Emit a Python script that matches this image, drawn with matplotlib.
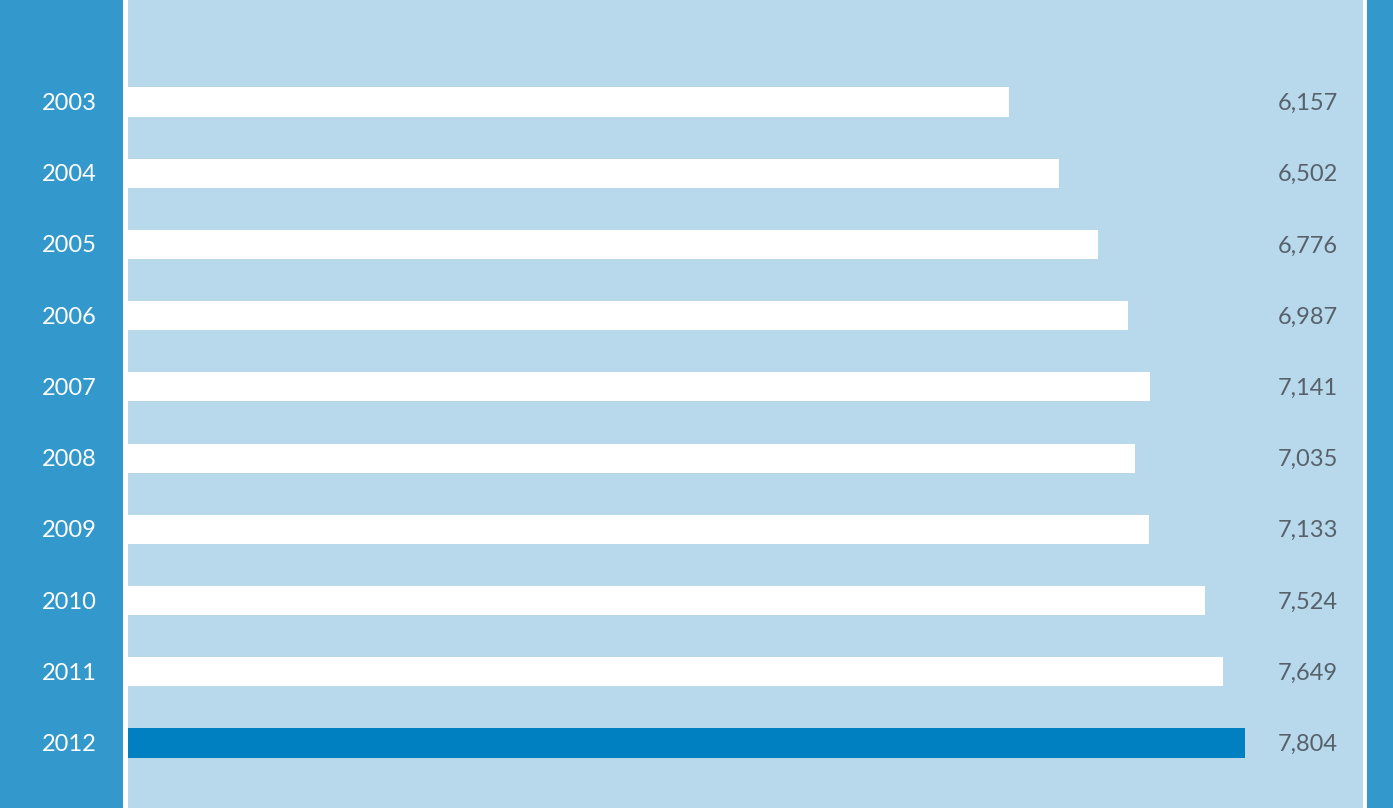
import matplotlib
matplotlib.use("Agg")
import matplotlib.pyplot as plt
from matplotlib.patches import Rectangle

years = ["2003", "2004", "2005", "2006", "2007", "2008", "2009", "2010", "2011", "2012"]
values = [6157, 6502, 6776, 6987, 7141, 7035, 7133, 7524, 7649, 7804]
value_labels = ["6,157", "6,502", "6,776", "6,987", "7,141", "7,035", "7,133", "7,524", "7,649", "7,804"]
highlight_year = "2012"

DARK = "#3399cc"
LIGHT = "#b8d8ec"
HIGHLIGHT = "#0080c0"
W, H = 1393, 808

fig = plt.figure(figsize=(W / 100, H / 100), dpi=100, facecolor=DARK)
ax = fig.add_axes([128 / W, 0, (1363 - 128) / W, 1])
ax.set_facecolor(LIGHT)

# white divider lines
fig.patches.append(Rectangle((123 / W, 0), 5 / W, 1, transform=fig.transFigure,
                             facecolor="white", edgecolor="none", zorder=5))
fig.patches.append(Rectangle((1363 / W, 0), 3.5 / W, 1, transform=fig.transFigure,
                             facecolor="white", edgecolor="none", zorder=5))

n = len(years)
ypos = list(range(n))
colors = [HIGHLIGHT if y == highlight_year else "white" for y in years]
ax.barh(ypos, values, height=0.41, color=colors, edgecolor="none")

scale = 1117 / 7804  # px per unit
xmax = (1363 - 128) / scale
ax.set_xlim(0, xmax)
sp = (743 - 102) / 9
top = -102 / sp
bottom = (H - 102) / sp
ax.set_ylim(bottom, top)

for s in ax.spines.values():
    s.set_visible(False)
ax.set_xticks([])
ax.set_yticks([])

dy = 1.5 / sp
for i, (y, lab) in enumerate(zip(years, value_labels)):
    ax.text(-(128 - 97) / scale, i + dy, y, ha="right", va="center", color="white",
            fontsize=17, family="Lato", clip_on=False)
    ax.text((1278 - 128) / scale, i + dy, lab, ha="left", va="center", color="#56616b",
            fontsize=17, family="Lato", clip_on=False)

fig.savefig("out.png", dpi=100, facecolor=DARK)
